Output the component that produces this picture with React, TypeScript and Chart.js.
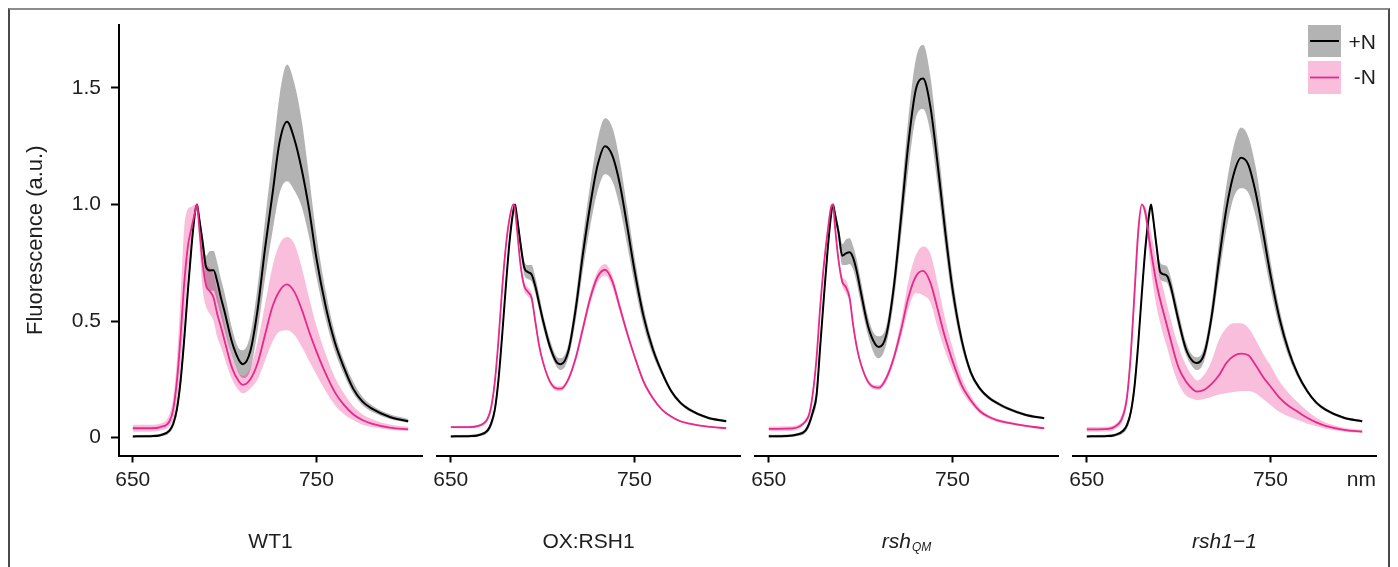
import React, { useEffect, useRef } from "react";
import { Chart, registerables } from "chart.js";

Chart.register(...registerables);

// ---------- data ----------
const wavelengths = [650, 660, 665, 670, 672, 674, 676, 678, 680, 682, 684, 685, 686, 688, 690, 692, 694, 696, 698, 700, 704, 708, 710, 714, 718, 722, 726, 730, 734, 738, 742, 746, 750, 755, 760, 765, 770, 775, 780, 790, 800];

const xTicks = [650, 750];
const yTicks = [0, 0.5, 1.0, 1.5];
const yTickLabels = ["0", "0.5", "1.0", "1.5"];
const panelTitles = ["WT1", "OX:RSH1", "rsh", "rsh1\u22121"];
const panelSubscripts = ["", "", "QM", ""];
const panelItalic = [false, false, true, true];
const legendLabels = ["+N", "-N"];
const yTitle = "Fluorescence (a.u.)";
const xUnit = "nm";

// WT1
const wt1PlusMean = [0.005,0.006,0.010,0.030,0.058,0.12,0.24,0.42,0.63,0.82,0.97,1.0,0.95,0.84,0.73,0.717,0.718,0.67,0.60,0.54,0.41,0.33,0.315,0.37,0.55,0.81,1.04,1.27,1.355,1.28,1.15,0.98,0.77,0.565,0.41,0.30,0.21,0.155,0.125,0.088,0.07];
const wt1PlusHigh = [0.011,0.012,0.016,0.04,0.075,0.15,0.28,0.46,0.67,0.85,0.98,1.0,0.97,0.87,0.78,0.80,0.80,0.75,0.68,0.62,0.47,0.38,0.375,0.44,0.65,0.93,1.20,1.47,1.60,1.52,1.36,1.12,0.87,0.63,0.45,0.33,0.24,0.175,0.14,0.10,0.08];
const wt1PlusLow = [0.0,0.001,0.005,0.02,0.045,0.10,0.21,0.38,0.59,0.79,0.96,1.0,0.93,0.80,0.66,0.63,0.63,0.58,0.52,0.46,0.35,0.27,0.255,0.29,0.46,0.68,0.88,1.05,1.10,1.06,0.99,0.86,0.69,0.51,0.37,0.27,0.19,0.14,0.112,0.08,0.064];
const wt1MinusMean = [0.04,0.04,0.045,0.07,0.12,0.24,0.43,0.66,0.82,0.90,0.97,1.0,0.92,0.75,0.65,0.628,0.60,0.53,0.475,0.415,0.30,0.238,0.226,0.25,0.32,0.44,0.56,0.63,0.657,0.625,0.55,0.455,0.37,0.275,0.195,0.14,0.10,0.075,0.06,0.043,0.035];
const wt1MinusHigh = [0.055,0.055,0.06,0.10,0.17,0.33,0.60,0.90,0.98,0.99,1.0,1.0,0.96,0.82,0.74,0.73,0.70,0.63,0.56,0.49,0.35,0.275,0.265,0.30,0.41,0.57,0.73,0.83,0.86,0.83,0.73,0.60,0.48,0.36,0.26,0.19,0.135,0.10,0.08,0.056,0.045];
const wt1MinusLow = [0.025,0.025,0.03,0.05,0.08,0.16,0.30,0.50,0.70,0.84,0.95,1.0,0.86,0.64,0.56,0.53,0.50,0.43,0.39,0.34,0.25,0.20,0.19,0.21,0.25,0.33,0.41,0.455,0.46,0.44,0.39,0.33,0.27,0.20,0.14,0.10,0.075,0.055,0.045,0.033,0.028];

// OX:RSH1
const oxPlusMean = [0.005,0.006,0.010,0.030,0.06,0.12,0.25,0.44,0.65,0.84,0.97,1.0,0.95,0.83,0.73,0.71,0.70,0.65,0.58,0.51,0.39,0.32,0.315,0.37,0.55,0.79,1.00,1.17,1.25,1.21,1.09,0.91,0.72,0.52,0.38,0.28,0.20,0.15,0.12,0.085,0.07];
const oxPlusHigh = [0.011,0.012,0.016,0.04,0.075,0.14,0.27,0.46,0.67,0.86,0.98,1.0,0.97,0.86,0.76,0.74,0.74,0.69,0.62,0.54,0.42,0.345,0.34,0.40,0.60,0.86,1.09,1.28,1.37,1.33,1.19,0.99,0.78,0.56,0.405,0.295,0.21,0.158,0.127,0.09,0.075];
const oxPlusLow = [0.0,0.001,0.005,0.02,0.045,0.10,0.23,0.42,0.63,0.82,0.96,1.0,0.93,0.80,0.70,0.68,0.67,0.62,0.55,0.48,0.37,0.30,0.29,0.34,0.50,0.72,0.91,1.06,1.13,1.10,0.99,0.83,0.66,0.48,0.355,0.265,0.19,0.142,0.113,0.08,0.065];
const oxMinusMean = [0.045,0.045,0.05,0.08,0.13,0.24,0.42,0.64,0.82,0.94,1.0,0.98,0.90,0.74,0.65,0.625,0.60,0.50,0.40,0.33,0.24,0.21,0.21,0.25,0.34,0.47,0.60,0.69,0.72,0.67,0.56,0.45,0.35,0.24,0.17,0.12,0.09,0.07,0.06,0.047,0.04];
const oxMinusHigh = [0.05,0.05,0.055,0.09,0.145,0.26,0.44,0.66,0.84,0.95,1.0,0.99,0.91,0.76,0.67,0.645,0.62,0.52,0.415,0.34,0.25,0.22,0.22,0.26,0.355,0.49,0.625,0.715,0.745,0.695,0.58,0.465,0.36,0.25,0.177,0.125,0.094,0.074,0.064,0.05,0.043];
const oxMinusLow = [0.04,0.04,0.045,0.07,0.115,0.22,0.40,0.62,0.80,0.93,1.0,0.97,0.89,0.72,0.63,0.605,0.58,0.48,0.385,0.32,0.23,0.20,0.20,0.24,0.325,0.45,0.575,0.665,0.695,0.645,0.54,0.435,0.34,0.23,0.163,0.115,0.086,0.066,0.056,0.044,0.037];

// rshQM
const qmPlusMean = [0.006,0.007,0.012,0.03,0.06,0.11,0.18,0.39,0.60,0.80,0.96,1.0,0.96,0.88,0.78,0.79,0.795,0.77,0.71,0.63,0.48,0.40,0.388,0.44,0.64,0.94,1.26,1.49,1.54,1.42,1.17,0.89,0.64,0.42,0.28,0.21,0.17,0.145,0.125,0.097,0.083];
const qmPlusHigh = [0.012,0.013,0.018,0.04,0.075,0.13,0.21,0.42,0.63,0.83,0.97,1.0,0.98,0.91,0.83,0.85,0.855,0.82,0.76,0.68,0.52,0.44,0.435,0.48,0.69,1.02,1.37,1.62,1.685,1.55,1.27,0.97,0.70,0.45,0.295,0.218,0.178,0.152,0.132,0.103,0.088];
const qmPlusLow = [0.0,0.001,0.006,0.02,0.045,0.09,0.15,0.36,0.57,0.77,0.95,1.0,0.94,0.85,0.74,0.74,0.745,0.72,0.66,0.58,0.44,0.35,0.34,0.40,0.58,0.86,1.15,1.37,1.41,1.31,1.08,0.82,0.59,0.39,0.265,0.20,0.162,0.138,0.118,0.091,0.078];
const qmMinusMean = [0.037,0.038,0.042,0.07,0.10,0.19,0.34,0.56,0.74,0.88,0.99,1.0,0.91,0.76,0.67,0.645,0.60,0.48,0.385,0.32,0.24,0.215,0.214,0.255,0.34,0.46,0.60,0.69,0.715,0.665,0.55,0.43,0.33,0.225,0.16,0.113,0.088,0.073,0.064,0.05,0.04];
const qmMinusHigh = [0.047,0.048,0.052,0.08,0.115,0.21,0.36,0.58,0.76,0.90,1.0,1.0,0.93,0.78,0.69,0.675,0.625,0.50,0.40,0.33,0.25,0.225,0.225,0.27,0.36,0.50,0.67,0.78,0.82,0.79,0.66,0.51,0.39,0.26,0.18,0.125,0.096,0.08,0.07,0.055,0.045];
const qmMinusLow = [0.027,0.028,0.032,0.06,0.085,0.17,0.32,0.54,0.72,0.86,0.98,1.0,0.89,0.74,0.65,0.62,0.575,0.46,0.37,0.31,0.23,0.205,0.204,0.24,0.32,0.43,0.55,0.62,0.61,0.58,0.47,0.37,0.29,0.20,0.145,0.103,0.08,0.066,0.058,0.045,0.035];

// rsh1-1
const r11PlusMean = [0.005,0.006,0.010,0.030,0.055,0.11,0.22,0.40,0.62,0.82,0.96,1.0,0.95,0.82,0.71,0.70,0.69,0.64,0.57,0.50,0.38,0.325,0.32,0.36,0.52,0.76,0.98,1.13,1.20,1.17,1.05,0.88,0.70,0.51,0.37,0.27,0.20,0.15,0.12,0.085,0.07];
const r11PlusHigh = [0.011,0.012,0.016,0.04,0.07,0.13,0.25,0.43,0.65,0.85,0.97,1.0,0.97,0.85,0.75,0.74,0.73,0.68,0.61,0.54,0.41,0.35,0.345,0.39,0.57,0.84,1.08,1.25,1.33,1.29,1.16,0.96,0.76,0.55,0.395,0.285,0.21,0.158,0.127,0.09,0.075];
const r11PlusLow = [0.0,0.001,0.005,0.02,0.04,0.09,0.19,0.37,0.59,0.79,0.95,1.0,0.93,0.79,0.68,0.67,0.66,0.61,0.54,0.47,0.355,0.30,0.29,0.33,0.48,0.69,0.89,1.03,1.07,1.05,0.95,0.80,0.64,0.47,0.345,0.255,0.19,0.142,0.113,0.08,0.065];
const r11MinusMean = [0.035,0.036,0.045,0.10,0.18,0.36,0.62,0.88,1.0,0.96,0.85,0.80,0.75,0.66,0.59,0.53,0.47,0.41,0.35,0.30,0.24,0.205,0.197,0.205,0.23,0.267,0.32,0.35,0.36,0.353,0.31,0.26,0.22,0.17,0.135,0.11,0.085,0.065,0.05,0.033,0.025];
const r11MinusHigh = [0.045,0.046,0.055,0.12,0.21,0.40,0.68,0.93,1.0,0.99,0.92,0.88,0.84,0.76,0.69,0.63,0.56,0.50,0.44,0.39,0.31,0.26,0.245,0.27,0.33,0.42,0.47,0.49,0.49,0.47,0.42,0.36,0.31,0.24,0.19,0.15,0.115,0.085,0.065,0.042,0.032];
const r11MinusLow = [0.025,0.026,0.035,0.08,0.15,0.32,0.56,0.83,0.99,0.93,0.78,0.72,0.66,0.56,0.49,0.43,0.38,0.32,0.27,0.23,0.18,0.165,0.16,0.165,0.175,0.185,0.19,0.195,0.20,0.20,0.19,0.165,0.14,0.11,0.09,0.075,0.06,0.048,0.038,0.026,0.019];

const panels = [
  { plusMean: wt1PlusMean, plusHigh: wt1PlusHigh, plusLow: wt1PlusLow, minusMean: wt1MinusMean, minusHigh: wt1MinusHigh, minusLow: wt1MinusLow },
  { plusMean: oxPlusMean, plusHigh: oxPlusHigh, plusLow: oxPlusLow, minusMean: oxMinusMean, minusHigh: oxMinusHigh, minusLow: oxMinusLow },
  { plusMean: qmPlusMean, plusHigh: qmPlusHigh, plusLow: qmPlusLow, minusMean: qmMinusMean, minusHigh: qmMinusHigh, minusLow: qmMinusLow },
  { plusMean: r11PlusMean, plusHigh: r11PlusHigh, plusLow: r11PlusLow, minusMean: r11MinusMean, minusHigh: r11MinusHigh, minusLow: r11MinusLow },
];

// ---------- style / layout ----------
const FONT = '"Liberation Sans", Arial, Helvetica, sans-serif';
const TEXT = "#1e1e1e";
const BLACK = "#000000";
const PINK = "#e7298a";
const GRAY_BAND = "rgba(128,128,128,0.6)";
const PINK_BAND = "rgba(231,41,138,0.3)";
const FONT_SIZE = 21;
const Y_TITLE_SIZE = 22;
const X_MIN = 642.5;
const X_MAX = 807.5;
const Y_MIN = -0.077;
const Y_MAX = 1.77;

const CANVAS_TOP = 10;
const CANVAS_H = 550;
const PAD_TOP = 15;
const X_AXIS_H = 104.5;
const FIRST_CHART_LEFT = 119;
const PANEL_STEP = 318;
const CHART_W = 303;
const SIDE_PAD = 20;
const Y_AXIS_W = 109;
const FIRST_CANVAS_LEFT = 10;

function panelGeom(i: number) {
  if (i === 0) {
    return { left: FIRST_CANVAS_LEFT, width: FIRST_CHART_LEFT - FIRST_CANVAS_LEFT + CHART_W + SIDE_PAD, padLeft: 0 };
  }
  const chartLeft = FIRST_CHART_LEFT + PANEL_STEP * i;
  return { left: chartLeft - SIDE_PAD, width: CHART_W + 2 * SIDE_PAD, padLeft: SIDE_PAD };
}

function overlayPlugin(i: number) {
  return {
    id: "overlay" + i,
    afterDraw(chart: any) {
      const { ctx, chartArea } = chart;
      const cx = (chartArea.left + chartArea.right) / 2;
      const baseY = 548 - CANVAS_TOP;
      ctx.save();
      ctx.fillStyle = TEXT;
      ctx.textBaseline = "alphabetic";
      const style = panelItalic[i] ? "italic " : "";
      const main = panelTitles[i];
      const sub = panelSubscripts[i];
      ctx.font = `${style}${FONT_SIZE}px ${FONT}`;
      const w1 = ctx.measureText(main).width;
      let w2 = 0;
      if (sub) {
        ctx.font = `${style}12px ${FONT}`;
        w2 = ctx.measureText(sub).width + 1;
      }
      const x0 = cx - (w1 + w2) / 2;
      ctx.textAlign = "left";
      ctx.font = `${style}${FONT_SIZE}px ${FONT}`;
      ctx.fillText(main, x0, baseY);
      if (sub) {
        ctx.font = `${style}12px ${FONT}`;
        ctx.fillText(sub, x0 + w1 + 1, baseY + 3);
      }

      if (i === panels.length - 1) {
        ctx.font = `${FONT_SIZE}px ${FONT}`;
        ctx.textAlign = "right";
        ctx.textBaseline = "middle";
        ctx.fillText(xUnit, chartArea.right, 480 - CANVAS_TOP);

        const boxX = chartArea.right - 68;
        const boxW = 33;
        const rows = [
          { top: 25, h: 32, band: GRAY_BAND, line: BLACK, lw: 2, ty: 43 },
          { top: 61, h: 33, band: PINK_BAND, line: PINK, lw: 1.8, ty: 78 },
        ];
        rows.forEach((r, k) => {
          const top = r.top - CANVAS_TOP;
          ctx.fillStyle = r.band;
          ctx.fillRect(boxX, top, boxW, r.h);
          ctx.strokeStyle = r.line;
          ctx.lineWidth = r.lw;
          ctx.beginPath();
          ctx.moveTo(boxX + 2, top + r.h / 2);
          ctx.lineTo(boxX + boxW - 2, top + r.h / 2);
          ctx.stroke();
          ctx.fillStyle = TEXT;
          ctx.font = `${FONT_SIZE}px ${FONT}`;
          ctx.textAlign = "right";
          ctx.textBaseline = "middle";
          ctx.fillText(legendLabels[k], chartArea.right, r.ty - CANVAS_TOP);
        });
      }
      ctx.restore();
    },
  };
}

function Panel({ index }: { index: number }) {
  const ref = useRef<HTMLCanvasElement | null>(null);
  const g = panelGeom(index);
  useEffect(() => {
    const p = panels[index];
    const pts = (arr: number[]) => wavelengths.map((x, k) => ({ x, y: arr[k] }));
    const common = { pointRadius: 0, pointHoverRadius: 0, cubicInterpolationMode: "monotone" as const };
    const showY = index === 0;
    const chart = new Chart(ref.current as HTMLCanvasElement, {
      type: "line",
      data: {
        datasets: [
          { ...common, label: "+N high", data: pts(p.plusHigh), fill: "+1", backgroundColor: GRAY_BAND, borderColor: "rgba(0,0,0,0)", borderWidth: 0, order: 4 },
          { ...common, label: "+N low", data: pts(p.plusLow), fill: false, borderColor: "rgba(0,0,0,0)", borderWidth: 0, order: 4 },
          { ...common, label: "-N high", data: pts(p.minusHigh), fill: "+1", backgroundColor: PINK_BAND, borderColor: "rgba(0,0,0,0)", borderWidth: 0, order: 3 },
          { ...common, label: "-N low", data: pts(p.minusLow), fill: false, borderColor: "rgba(0,0,0,0)", borderWidth: 0, order: 3 },
          { ...common, label: legendLabels[0], data: pts(p.plusMean), fill: false, borderColor: BLACK, borderWidth: 2, order: 2 },
          { ...common, label: legendLabels[1], data: pts(p.minusMean), fill: false, borderColor: PINK, borderWidth: 1.8, order: 1 },
        ],
      },
      options: {
        animation: false,
        responsive: false,
        devicePixelRatio: 1,
        events: [],
        layout: { padding: { top: PAD_TOP, bottom: 0, left: g.padLeft, right: SIDE_PAD } },
        plugins: { legend: { display: false }, tooltip: { enabled: false }, title: { display: false } },
        scales: {
          x: {
            type: "linear",
            min: X_MIN,
            max: X_MAX,
            afterBuildTicks: (s: any) => { s.ticks = xTicks.map((v) => ({ value: v })); },
            afterFit: (s: any) => { s.height = X_AXIS_H; s.paddingLeft = 0; s.paddingRight = 0; },
            grid: { display: true, drawOnChartArea: false, drawTicks: true, tickLength: 7, tickWidth: 2, tickColor: BLACK },
            border: { display: true, color: BLACK, width: 2 },
            ticks: { font: { family: FONT, size: FONT_SIZE }, color: TEXT, padding: 5, maxRotation: 0, autoSkip: false, callback: (v: any) => String(v) },
          },
          y: {
            type: "linear",
            display: showY,
            min: Y_MIN,
            max: Y_MAX,
            afterBuildTicks: (s: any) => { s.ticks = yTicks.map((v) => ({ value: v })); },
            afterFit: (s: any) => {
              s.width = showY ? Y_AXIS_W : 0;
              s.paddingTop = 0;
              s.paddingBottom = 0;
            },
            grid: { display: true, drawOnChartArea: false, drawTicks: true, tickLength: 8, tickWidth: 2, tickColor: BLACK },
            border: { display: true, color: BLACK, width: 2 },
            ticks: { font: { family: FONT, size: FONT_SIZE }, color: TEXT, padding: 10, callback: (_v: any, k: number) => yTickLabels[k] },
            title: { display: true, text: yTitle, font: { family: FONT, size: Y_TITLE_SIZE }, color: TEXT, padding: { top: 13, bottom: 0 } },
          },
        },
      },
      plugins: [overlayPlugin(index)],
    } as any);
    return () => chart.destroy();
  }, [index]);
  return (
    <canvas
      ref={ref}
      width={g.width}
      height={CANVAS_H}
      style={{ position: "absolute", left: g.left, top: CANVAS_TOP, width: g.width, height: CANVAS_H }}
    />
  );
}

export default function App() {
  return (
    <div style={{ position: "fixed", left: 0, top: 0, width: 1398, height: 567, overflow: "hidden", background: "#fff" }}>
      <div
        style={{
          position: "absolute",
          left: 8,
          top: 8,
          width: 1382,
          height: 640,
          boxSizing: "border-box",
          borderTop: "2px solid #8c8c8c",
          borderLeft: "2px solid #4a4a4a",
          borderRight: "2px solid #4a4a4a",
        }}
      />
      {panels.map((_, i) => (
        <Panel key={i} index={i} />
      ))}
    </div>
  );
}
